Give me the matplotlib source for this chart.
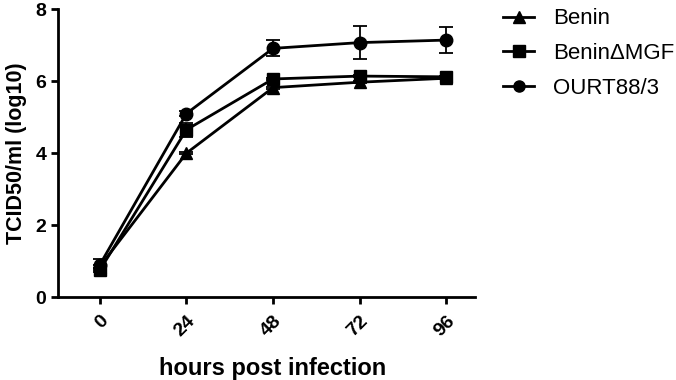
import matplotlib
matplotlib.use("Agg")
import matplotlib.pyplot as plt
from matplotlib.lines import Line2D

plt.rcParams['font.family'] = ['Liberation Sans', 'DejaVu Sans']

hours = [0, 24, 48, 72, 96]
benin = [0.85, 4.0, 5.82, 5.97, 6.08]
benin_err = [0.05, 0.03, 0.03, 0.03, 0.03]
mgf = [0.75, 4.65, 6.06, 6.14, 6.12]
mgf_err = [0.05, 0.2, 0.03, 0.03, 0.03]
ourt = [0.9, 5.1, 6.91, 7.07, 7.14]
ourt_err = [0.15, 0.06, 0.22, 0.46, 0.36]
names = ['Benin', 'Benin\u0394MGF', 'OURT88/3']
markers = ['^', 's', 'o']

fig = plt.figure(figsize=(6.76, 3.8), dpi=100)
ax = fig.add_axes([0.0858, 0.218, 0.617, 0.758])

for y, e, m, n in zip([benin, mgf, ourt], [benin_err, mgf_err, ourt_err], markers, names):
    ax.errorbar(hours, y, yerr=e, color='black', marker=m, markersize=9 if m != 's' else 8.5,
                linewidth=2, elinewidth=1.3, capsize=5, capthick=1.3, label=n)

ax.set_xlim(-11.6, 104)
ax.set_ylim(0, 8)
ax.set_xticks(hours)
ax.set_yticks([0, 2, 4, 6, 8])
for s in ['top', 'right']:
    ax.spines[s].set_visible(False)
for s in ['left', 'bottom']:
    ax.spines[s].set_linewidth(2)
ax.tick_params(width=2, length=5, labelsize=14)
ax.tick_params(axis='x', pad=6)
for lab in ax.get_xticklabels():
    lab.set_rotation(45)
    lab.set_fontweight('bold')
    lab.set_ha('right')
    lab.set_rotation_mode('anchor')
for lab in ax.get_yticklabels():
    lab.set_fontweight('bold')
ax.set_ylabel('TCID50/ml (log10)', fontsize=15.5, fontweight='bold', labelpad=6)
fig.text(273 / 676, 1 - 368 / 380, 'hours post infection', fontsize=17, fontweight='bold',
         ha='center', va='center')

handles = [Line2D([], [], color='black', marker=m, markersize=8, linewidth=2) for m in markers]
fig.legend(handles, names, loc='upper left', bbox_to_anchor=(503 / 676, 0.978), frameon=False,
           fontsize=16, handlelength=1.4, labelspacing=0.62, handletextpad=0.85,
           borderpad=0, borderaxespad=0)

fig.savefig('out.png', dpi=100)
